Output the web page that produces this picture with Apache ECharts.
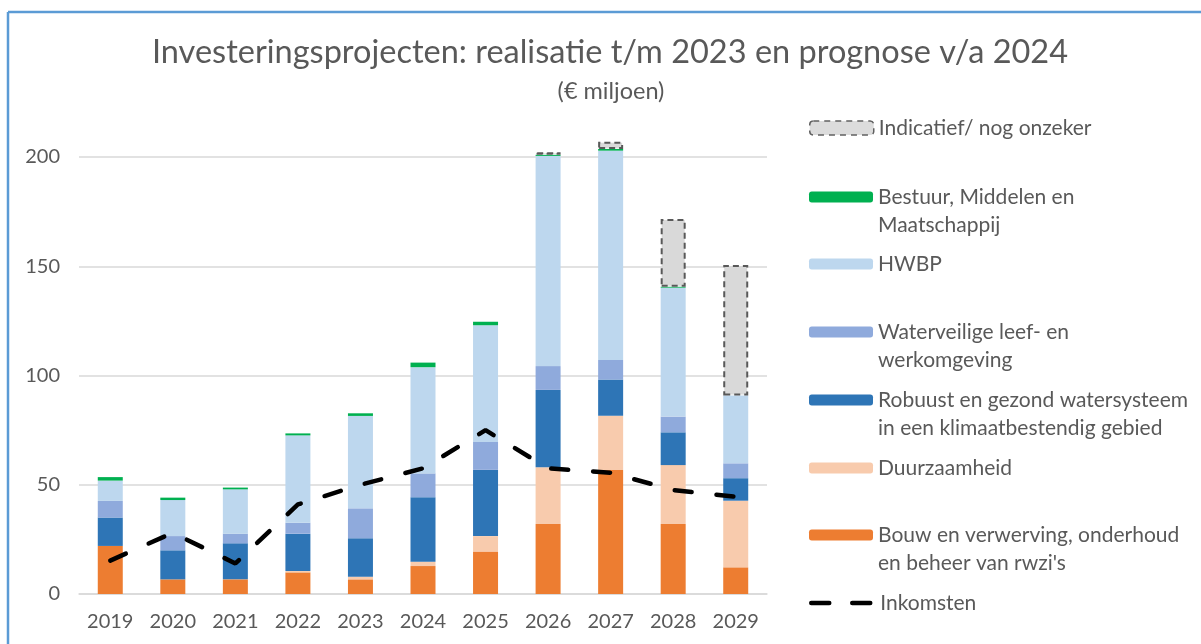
<!DOCTYPE html>
<html>
<head>
<meta charset="utf-8">
<script src="https://cdn.jsdelivr.net/npm/echarts@6/dist/echarts.min.js"></script>
<style>
html,body{margin:0;padding:0;background:#fff;}
#c{width:1201px;height:644px;}
</style>
</head>
<body>
<div id="c"></div>
<script>
const years = ['2019','2020','2021','2022','2023','2024','2025','2026','2027','2028','2029'];
const bouw = [22, 6.7, 6.7, 9.9, 6.7, 12.8, 19.4, 32, 56.8, 32, 12.2];
const duurzaamheid = [0, 0, 0, 0.6, 1.2, 2, 7.1, 26, 24.8, 27, 30.5];
const robuust = [13, 13.3, 16.5, 17.1, 17.6, 29.5, 30.3, 35.4, 16.6, 15, 10.3];
const waterveilig = [7.6, 6.5, 4.4, 5, 13.7, 10.9, 12.8, 10.9, 8.9, 7.2, 6.8];
const hwbp = [9.3, 16.5, 20.3, 40, 42.3, 48.6, 53.4, 96.2, 95.8, 59, 31];
const bestuur = [1.6, 1.1, 0.8, 0.9, 1.2, 2.1, 1.6, 0.5, 0.8, 0.4, 0];
const indicatief = [0, 0, 0, 0, 0, 0, 0, 1.2, 3.3, 31, 59.8];
const inkomsten = [15.3, 28, 14, 41, 50, 57.5, 75, 57.5, 55.5, 47.6, 44.5];
const yTicks = [0, 50, 100, 150, 200];

const FONT = 'Lato, "Open Sans", sans-serif';
const GREY = '#595959';

const names = {
  ind: 'Indicatief/ nog onzeker',
  bes: 'Bestuur, Middelen en Maatschappij',
  hw: 'HWBP',
  wv: 'Waterveilige leef- en werkomgeving',
  rb: 'Robuust en gezond watersysteem in een klimaatbestendig gebied',
  dz: 'Duurzaamheid',
  bw: "Bouw en verwerving, onderhoud en beheer van rwzi's",
  ink: 'Inkomsten'
};
const wrapped = {};
wrapped[names.bes] = ' \nBestuur, Middelen en\nMaatschappij';
wrapped[names.wv] = ' \nWaterveilige leef- en\nwerkomgeving';
wrapped[names.rb] = ' \nRobuust en gezond watersysteem\nin een klimaatbestendig gebied';
wrapped[names.bw] = " \nBouw en verwerving, onderhoud\nen beheer van rwzi's";

// zero-height segments are left out so that they draw nothing
function nz(arr) { return arr.map(function (v) { return v > 0 ? v : null; }); }

function barSeries(name, data, color, extra) {
  return Object.assign({
    name: name, type: 'bar', stack: 'tot', data: nz(data), barWidth: 25, clip: false,
    itemStyle: { color: color }, emphasis: { disabled: true }
  }, extra || {});
}

const legendRows = [
  [names.ind, 128, false],
  [names.bes, 197, true],
  [names.hw, 264, false],
  [names.wv, 332, true],
  [names.rb, 400, true],
  [names.dz, 468, false],
  [names.bw, 535, true],
  [names.ink, 603, false]
];

const legends = legendRows.map(function (r) {
  const isLine = r[0] === names.ink;
  const isInd = r[0] === names.ind;
  const lg = {
    data: [r[0]],
    left: 809,
    top: r[2] ? r[1] - 42 : r[1] - 14,
    padding: 0,
    orient: 'vertical',
    itemWidth: 64,
    itemHeight: isInd ? 14 : 11,
    itemGap: 0,
    formatter: function (n) { return wrapped[n] || n; },
    textStyle: { fontFamily: FONT, fontSize: 21, color: GREY, lineHeight: 28 }
  };
  if (isLine) {
    lg.itemStyle = { color: 'transparent', borderWidth: 0, opacity: 0 };
    lg.lineStyle = { color: '#000000', width: 4.5, type: [18, 23], cap: 'round' };
  }
  if (isInd) {
    lg.itemStyle = { color: '#dcdcdc', borderColor: '#606060', borderWidth: 1.5, borderType: [6, 5] };
  }
  return lg;
});

const option = {
  animation: false,
  backgroundColor: '#ffffff',
  title: [{
    text: 'Investeringsprojecten: realisatie t/m 2023 en prognose v/a 2024',
    left: 610, textAlign: 'center', top: 36, padding: 0,
    textStyle: { fontFamily: FONT, fontSize: 32.5, fontWeight: 'normal', color: GREY }
  }, {
    text: '(€ miljoen)',
    left: 611, textAlign: 'center', top: 79, padding: 0,
    textStyle: { fontFamily: FONT, fontSize: 23.5, fontWeight: 'normal', color: GREY }
  }],
  legend: legends,
  grid: { left: 79, right: 434, top: 157, bottom: 50 },
  xAxis: {
    type: 'category', data: years,
    axisLine: { lineStyle: { color: '#d9d9d9', width: 1.5 } },
    axisTick: { show: false },
    axisLabel: { fontFamily: FONT, fontSize: 20, color: GREY, margin: 18 }
  },
  yAxis: {
    type: 'value', min: yTicks[0], max: yTicks[yTicks.length - 1], interval: yTicks[1] - yTicks[0],
    axisLine: { show: false }, axisTick: { show: false },
    axisLabel: { fontFamily: FONT, fontSize: 20, color: GREY, margin: 19 },
    splitLine: { lineStyle: { color: '#d9d9d9', width: 1.5 } }
  },
  series: [
    barSeries(names.bw, bouw, '#ed7d31'),
    barSeries(names.dz, duurzaamheid, '#f8cbad'),
    barSeries(names.rb, robuust, '#2e75b6'),
    barSeries(names.wv, waterveilig, '#8faadc'),
    barSeries(names.hw, hwbp, '#bdd7ee'),
    barSeries(names.bes, bestuur, '#00b050'),
    barSeries(names.ind, indicatief, '#d9d9d9', {
      itemStyle: { color: '#d9d9d9', borderColor: '#595959', borderWidth: 2, borderType: [6, 4] }
    }),
    {
      name: names.ink, type: 'line', data: inkomsten, symbol: 'none', z: 5,
      lineStyle: { color: '#000000', width: 4.5, type: [17, 25], cap: 'round' },
      itemStyle: { color: '#000000' },
      emphasis: { disabled: true }
    }
  ],
  graphic: [
    { type: 'line', shape: { x1: 8, y1: 12, x2: 1201, y2: 12 }, style: { stroke: '#5b9bd5', lineWidth: 2.5 } },
    { type: 'line', shape: { x1: 8, y1: 12, x2: 8, y2: 644 }, style: { stroke: '#5b9bd5', lineWidth: 2.5 } }
  ]
};

const chart = echarts.init(document.getElementById('c'), null, { renderer: 'canvas' });
chart.setOption(option);
</script>
</body>
</html>
